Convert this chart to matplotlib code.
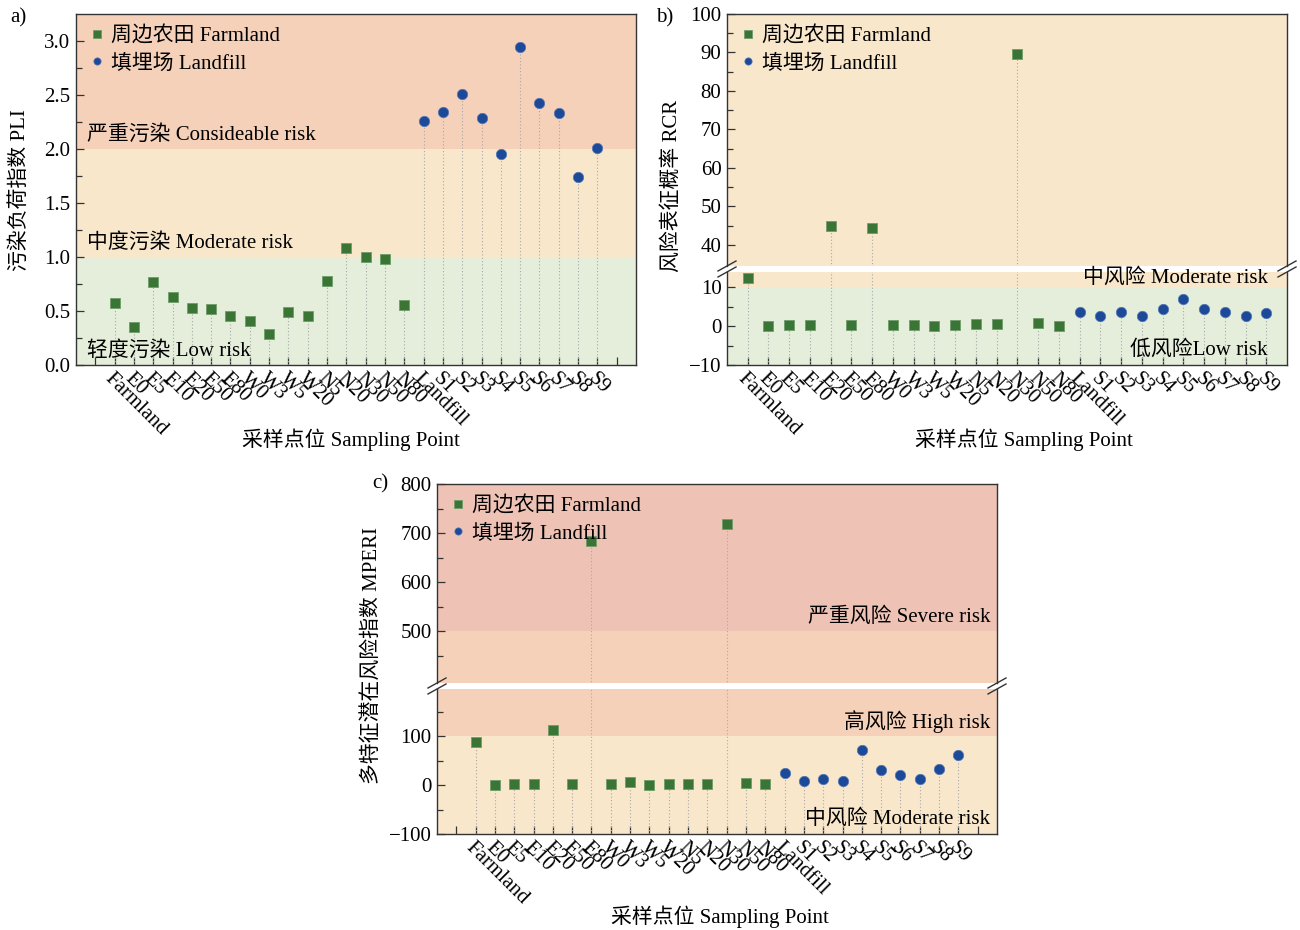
import numpy as np
import matplotlib
matplotlib.use('Agg')
import matplotlib.pyplot as plt
from matplotlib.lines import Line2D

plt.rcParams['font.family'] = ['Liberation Serif', 'Noto Sans CJK SC']

# 采样点位
sites = ['Farmland', 'E0', 'E5', 'E10', 'E20', 'E50', 'E80', 'W0', 'W3', 'W5', 'W20',
         'N5', 'N20', 'N30', 'N50', 'N80', 'Landfill',
         'S1', 'S2', 'S3', 'S4', 'S5', 'S6', 'S7', 'S8', 'S9']
n_farm = 16  # 前16个为周边农田, 其余为填埋场

# 污染负荷指数 PLI
pli = [0.57, 0.35, 0.77, 0.63, 0.53, 0.52, 0.45, 0.41, 0.29, 0.49, 0.45,
       0.78, 1.08, 1.00, 0.98, 0.56,
       2.26, 2.34, 2.51, 2.29, 1.95, 2.94, 2.43, 2.33, 1.74, 2.01]

# 风险表征概率 RCR
rcr = [12.4, 0.1, 0.3, 0.2, 44.8, 0.2, 44.5, 0.3, 0.3, 0.1, 0.2,
       0.5, 0.7, 89.6, 0.9, 0.1,
       3.8, 2.7, 3.7, 2.7, 4.4, 7.1, 4.4, 3.6, 2.6, 3.3]

# 多特征潜在风险指数 MPERI
mperi = [88, 0, 3, 2, 113, 2, 683, 2, 6, 0, 3,
         3, 3, 718, 5, 2,
         24, 8, 13, 8, 71, 31, 21, 13, 33, 61]

GREEN_BAND = '#e5eedb'
YELLOW_BAND = '#f8e7cb'
SALMON_BAND = '#f6d1ba'
RED_BAND = '#eec3b5'
C_FARM = '#3a7535'
C_LAND = '#1d4a98'

W, H = 1300, 930
fig = plt.figure(figsize=(13, 9.3), dpi=100)


def px_axes(left, top, right, bottom):
    return fig.add_axes([left / W, 1 - bottom / H, (right - left) / W, (bottom - top) / H])


def style_axes(ax):
    for s in ax.spines.values():
        s.set_color('#333333')
        s.set_linewidth(1.0)
    ax.tick_params(which='both', direction='in', top=False, right=False,
                   labelsize=15, colors='#333333', labelcolor='black', pad=4)
    ax.tick_params(which='major', length=6, width=0.9)
    ax.tick_params(which='minor', length=4, width=0.9)


def plot_series(ax, values, y_bottom):
    x = np.arange(1, len(sites) + 1)
    v = np.asarray(values, dtype=float)
    ax.vlines(x, y_bottom, v, colors='#a8a8a8', linestyles=(0, (1, 2)), linewidth=0.8, zorder=2)
    ax.plot(x[:n_farm], v[:n_farm], 's', color=C_FARM, ms=7.5, mec='#6f9d6b', mew=0.6,
            zorder=3, label='周边农田 Farmland')
    ax.plot(x[n_farm:], v[n_farm:], 'o', color=C_LAND, ms=7.5, mec='#5577b5', mew=0.5,
            zorder=3, label='填埋场 Landfill')


def set_xticks(ax, ticks, labels):
    ax.set_xticks(ticks)
    ax.set_xticklabels(labels, rotation=-45, ha='left', va='top',
                       rotation_mode='anchor', fontsize=15)
    ax.tick_params(axis='x', pad=3)


def add_legend(ax):
    ax.legend(loc='upper left', frameon=False, fontsize=15, markerscale=0.7,
              handlelength=0.8, handletextpad=0.3, labelspacing=0.35,
              borderaxespad=0.2)


def break_marks(ax_up, ax_low):
    # 断轴处的双斜线
    for ax, edge in ((ax_up, 0.0), (ax_low, 1.0)):
        bb = ax.get_position()
        for xf in (bb.x0, bb.x1):
            yf = bb.y0 if edge == 0.0 else bb.y1
            dx, dy = 9 / W, 5 / H
            fig.add_artist(Line2D([xf - dx, xf + dx], [yf - dy, yf + dy],
                                  transform=fig.transFigure, color='#333333', lw=1.0))


labels_full = [''] + sites + ['']

# ---------------- a) PLI ----------------
ax_a = px_axes(76, 14, 636, 365)
ax_a.axhspan(0, 1, color=GREEN_BAND, zorder=0, lw=0)
ax_a.axhspan(1, 2, color=YELLOW_BAND, zorder=0, lw=0)
ax_a.axhspan(2, 3.25, color=SALMON_BAND, zorder=0, lw=0)
plot_series(ax_a, pli, 0)
ax_a.set_xlim(-1, 28)
ax_a.set_ylim(0, 3.25)
ax_a.set_yticks(np.arange(0, 3.01, 0.5))
ax_a.set_yticks(np.arange(0.25, 3.25, 0.5), minor=True)
ax_a.set_yticklabels([f'{t:.1f}' for t in np.arange(0, 3.01, 0.5)])
style_axes(ax_a)
set_xticks(ax_a, np.arange(0, 28), labels_full)
add_legend(ax_a)
ax_a.text(0.02, 2.13, '严重污染 Consideable risk', fontsize=15, va='center',
          transform=ax_a.get_yaxis_transform())
ax_a.text(0.02, 1.13, '中度污染 Moderate risk', fontsize=15, va='center',
          transform=ax_a.get_yaxis_transform())
ax_a.text(0.02, 0.13, '轻度污染 Low risk', fontsize=15, va='center',
          transform=ax_a.get_yaxis_transform())

# ---------------- b) RCR ----------------
ax_bu = px_axes(727, 14, 1287, 266)
ax_bl = px_axes(727, 272, 1287, 365)
ax_bu.axhspan(30, 100, color=YELLOW_BAND, zorder=0, lw=0)
ax_bl.axhspan(-10, 10, color=GREEN_BAND, zorder=0, lw=0)
ax_bl.axhspan(10, 20, color=YELLOW_BAND, zorder=0, lw=0)
for ax in (ax_bu, ax_bl):
    plot_series(ax, rcr, -10)
    ax.set_xlim(0, 27)
    style_axes(ax)
ax_bu.set_ylim(34.5, 100)
ax_bl.set_ylim(-10, 14)
ax_bu.set_yticks(np.arange(40, 101, 10))
ax_bu.set_yticks(np.arange(45, 100, 10), minor=True)
ax_bl.set_yticks([-10, 0, 10])
ax_bl.set_yticks([-5, 5], minor=True)
ax_bu.spines['bottom'].set_visible(False)
ax_bl.spines['top'].set_visible(False)
ax_bu.set_xticks([])
set_xticks(ax_bl, np.arange(1, 27), sites)
add_legend(ax_bu)
ax_bl.text(0.966, 12.5, '中风险 Moderate risk', fontsize=15, ha='right', va='center',
           transform=ax_bl.get_yaxis_transform())
ax_bl.text(0.966, -6.2, '低风险Low risk', fontsize=15, ha='right', va='center',
           transform=ax_bl.get_yaxis_transform())
break_marks(ax_bu, ax_bl)

# ---------------- c) MPERI ----------------
ax_cu = px_axes(437, 484, 997, 683)
ax_cl = px_axes(437, 689, 997, 834)
ax_cu.axhspan(500, 800, color=RED_BAND, zorder=0, lw=0)
ax_cu.axhspan(300, 500, color=SALMON_BAND, zorder=0, lw=0)
ax_cl.axhspan(100, 300, color=SALMON_BAND, zorder=0, lw=0)
ax_cl.axhspan(-100, 100, color=YELLOW_BAND, zorder=0, lw=0)
for ax in (ax_cu, ax_cl):
    plot_series(ax, mperi, -100)
    ax.set_xlim(-1, 28)
    style_axes(ax)
ax_cu.set_ylim(394, 800)
ax_cl.set_ylim(-100, 196)
ax_cu.set_yticks([500, 600, 700, 800])
ax_cu.set_yticks([450, 550, 650, 750], minor=True)
ax_cl.set_yticks([-100, 0, 100])
ax_cl.set_yticks([-50, 50, 150], minor=True)
ax_cu.spines['bottom'].set_visible(False)
ax_cl.spines['top'].set_visible(False)
ax_cu.set_xticks([])
set_xticks(ax_cl, np.arange(0, 28), labels_full)
add_legend(ax_cu)
ax_cu.text(0.988, 528, '严重风险 Severe risk', fontsize=15, ha='right', va='center',
           transform=ax_cu.get_yaxis_transform())
ax_cl.text(0.988, 130, '高风险 High risk', fontsize=15, ha='right', va='center',
           transform=ax_cl.get_yaxis_transform())
ax_cl.text(0.988, -69, '中风险 Moderate risk', fontsize=15, ha='right', va='center',
           transform=ax_cl.get_yaxis_transform())
break_marks(ax_cu, ax_cl)

# 坐标轴标题与分图编号
fig.text(20 / W, 1 - 190 / H, '污染负荷指数 PLI', rotation=90, fontsize=15, ha='center', va='center')
fig.text(672 / W, 1 - 186 / H, '风险表征概率 RCR', rotation=90, fontsize=15, ha='center', va='center')
fig.text(372 / W, 1 - 655 / H, '多特征潜在风险指数 MPERI', rotation=90, fontsize=15, ha='center', va='center')
fig.text(351 / W, 1 - 440 / H, '采样点位 Sampling Point', fontsize=15, ha='center', va='center')
fig.text(1024 / W, 1 - 440 / H, '采样点位 Sampling Point', fontsize=15, ha='center', va='center')
fig.text(720 / W, 1 - 917 / H, '采样点位 Sampling Point', fontsize=15, ha='center', va='center')
fig.text(18 / W, 1 - 18 / H, 'a)', fontsize=15, ha='center', va='center')
fig.text(665 / W, 1 - 18 / H, 'b)', fontsize=15, ha='center', va='center')
fig.text(380 / W, 1 - 484 / H, 'c)', fontsize=15, ha='center', va='center')

fig.savefig('out.png', dpi=100)
